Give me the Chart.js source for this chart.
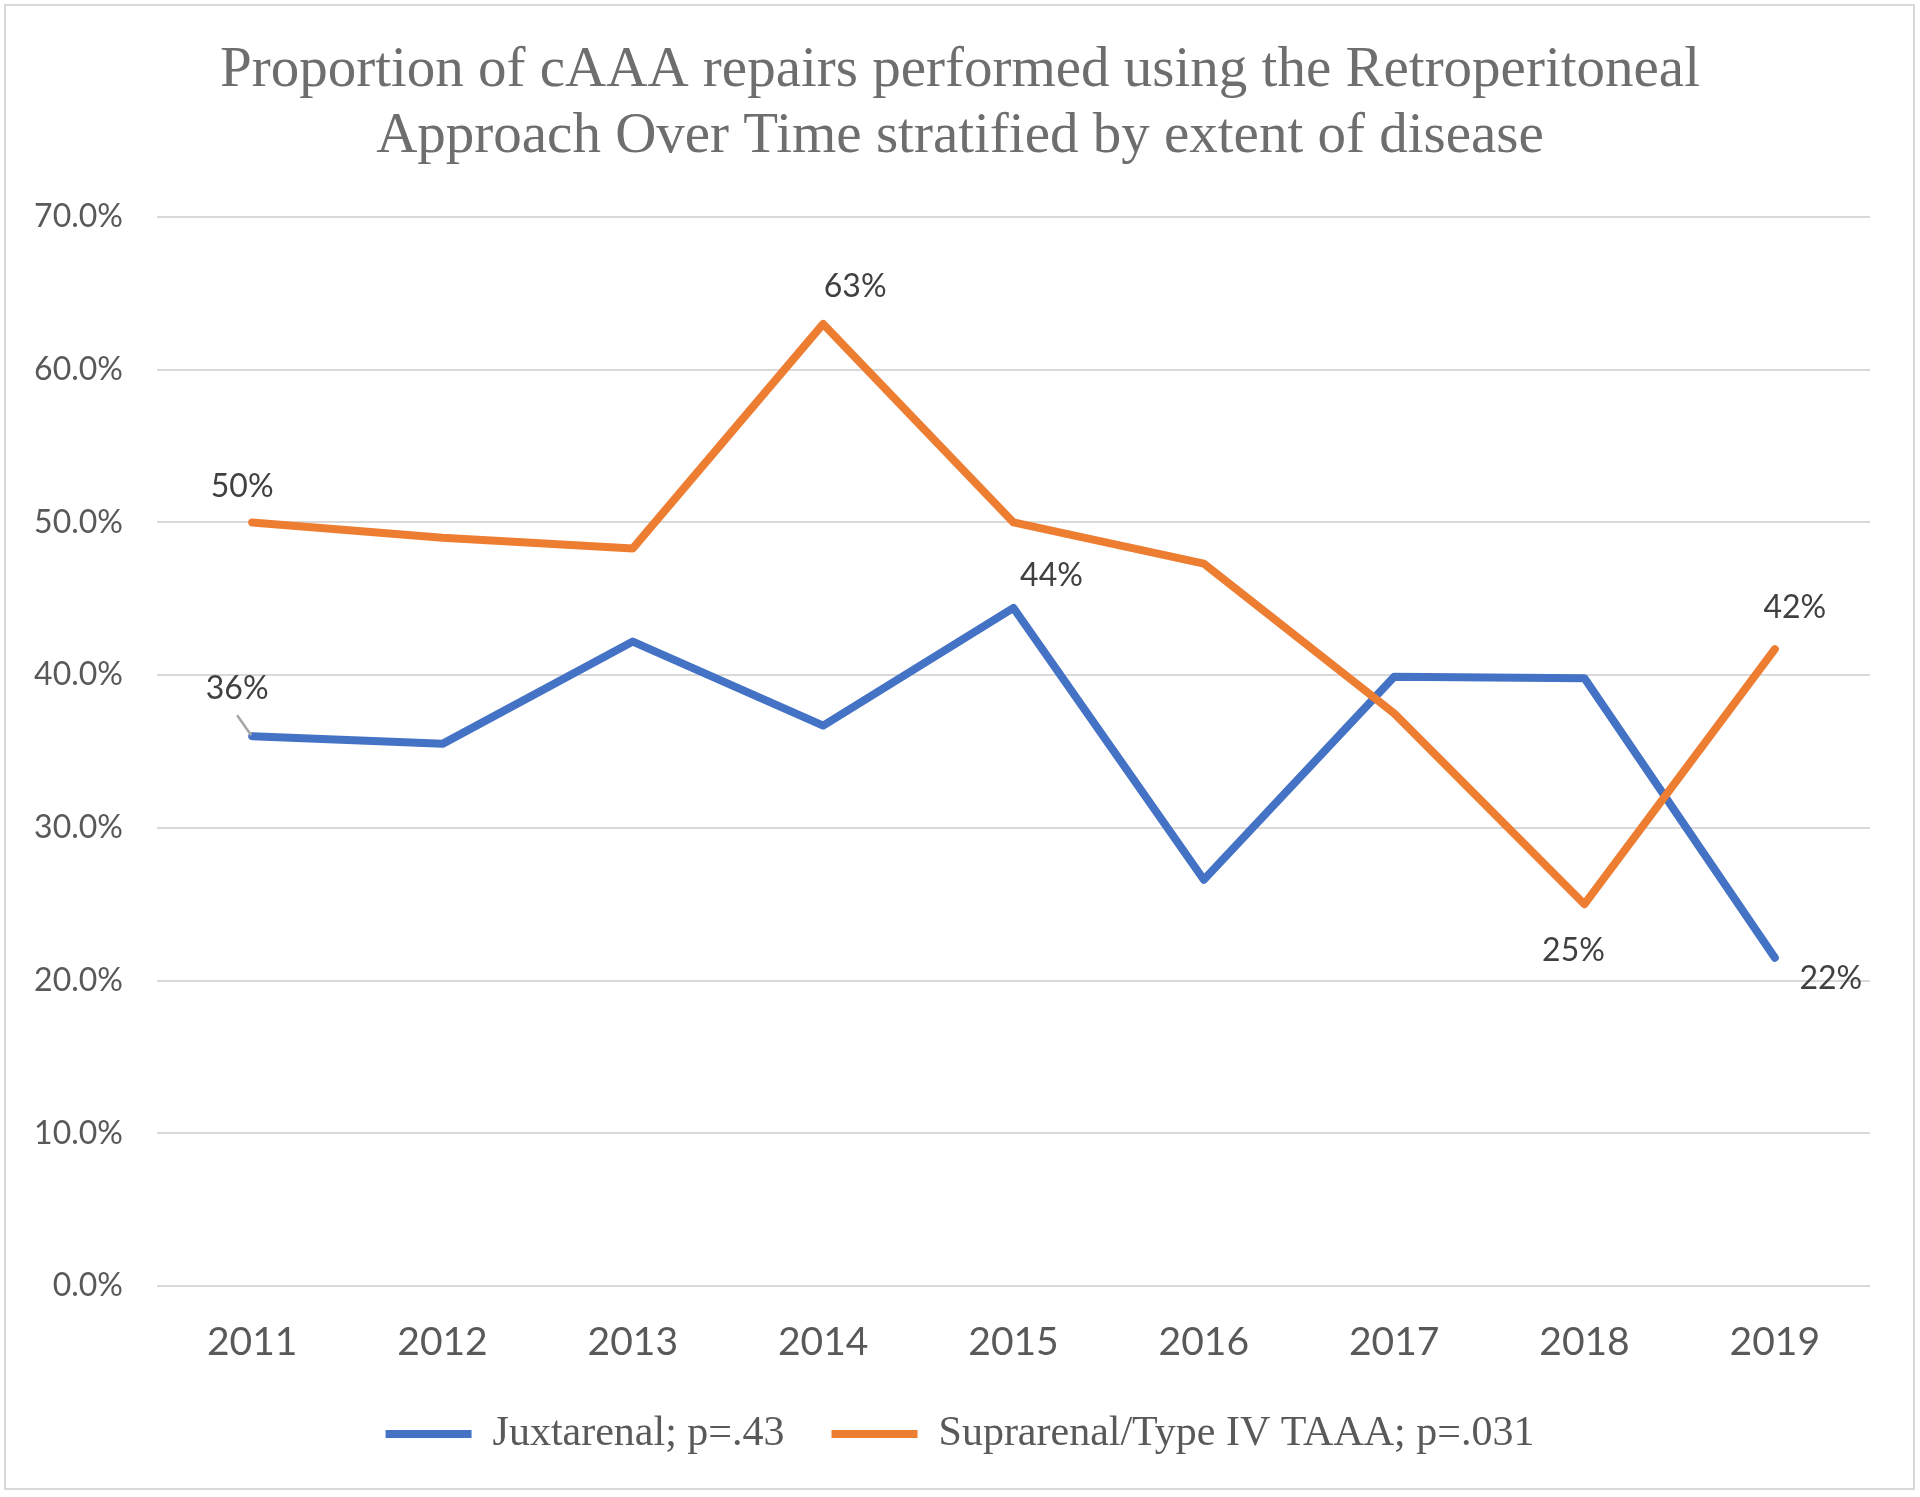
<!DOCTYPE html>
<html>
<head>
<meta charset="utf-8">
<script src="https://cdn.jsdelivr.net/npm/chart.js@4/dist/chart.umd.min.js"></script>
<style>
  html, body { margin: 0; padding: 0; background: #ffffff; }
  #wrap { width: 1920px; height: 1497px; position: relative; }
</style>
</head>
<body>
<div id="wrap"><canvas id="c" width="1920" height="1497"></canvas></div>
<script>
// ---- data ----
const categories = ['2011', '2012', '2013', '2014', '2015', '2016', '2017', '2018', '2019'];
const juxtarenal = [36.0, 35.5, 42.2, 36.7, 44.4, 26.6, 39.9, 39.8, 21.5];
const suprarenal = [50.0, 49.0, 48.3, 63.0, 50.0, 47.3, 37.5, 25.0, 41.7];
const juxtarenalLabels = ['36%', null, null, null, '44%', null, null, null, '22%'];
const suprarenalLabels = ['50%', null, null, '63%', null, null, null, '25%', '42%'];
const seriesNames = ['Juxtarenal; p=.43', 'Suprarenal/Type IV TAAA; p=.031'];
const titleLines = ['Proportion of cAAA repairs performed using the Retroperitoneal',
                    'Approach Over Time stratified by extent of disease'];
const yMin = 0, yMax = 70, yStep = 10;

// ---- label placement (style only) ----
const juxtarenalOffsets = [[-15, -48], null, null, null, [38, -32], null, null, null, [56, 21]];
const suprarenalOffsets = [[-10, -36], null, null, [32, -37], null, null, null, [-11, 46], [20, -41]];

const BLUE = '#4472C4', ORANGE = '#ED7D31';

const frame = {
  id: 'frame',
  beforeDraw(chart) {
    const ctx = chart.ctx;
    ctx.save();
    ctx.fillStyle = '#ffffff';
    ctx.fillRect(0, 0, chart.width, chart.height);
    ctx.strokeStyle = '#d9d9d9';
    ctx.lineWidth = 2;
    ctx.strokeRect(5, 5, 1909, 1484);
    ctx.restore();
  }
};

const dataLabels = {
  id: 'dataLabels',
  afterDatasetsDraw(chart) {
    const ctx = chart.ctx;
    const sets = [[juxtarenalLabels, juxtarenalOffsets], [suprarenalLabels, suprarenalOffsets]];
    ctx.save();
    ctx.font = '32px Lato';
    ctx.fillStyle = '#404040';
    ctx.textAlign = 'center';
    ctx.textBaseline = 'middle';
    sets.forEach(([labels, offs], di) => {
      const meta = chart.getDatasetMeta(di);
      labels.forEach((t, j) => {
        if (!t) return;
        const p = meta.data[j];
        const [dx, dy] = offs[j];
        ctx.fillText(t, p.x + dx, p.y + dy);
        if (di === 0 && j === 0) {
          ctx.save();
          ctx.strokeStyle = '#a6a6a6';
          ctx.lineWidth = 2.5;
          ctx.beginPath();
          ctx.moveTo(p.x - 15, p.y - 21);
          ctx.lineTo(p.x - 1, p.y - 1);
          ctx.stroke();
          ctx.restore();
        }
      });
    });
    ctx.restore();
  }
};

new Chart(document.getElementById('c'), {
  type: 'line',
  data: {
    labels: categories,
    datasets: [
      { label: seriesNames[0], data: juxtarenal, borderColor: BLUE, backgroundColor: BLUE,
        borderWidth: 8, pointRadius: 0, tension: 0, borderCapStyle: 'round', borderJoinStyle: 'round', order: 1 },
      { label: seriesNames[1], data: suprarenal, borderColor: ORANGE, backgroundColor: ORANGE,
        borderWidth: 8, pointRadius: 0, tension: 0, borderCapStyle: 'round', borderJoinStyle: 'round', order: 0 }
    ]
  },
  options: {
    responsive: false,
    animation: false,
    devicePixelRatio: 1,
    layout: { padding: { left: 0, right: 0, top: 0, bottom: 32 } },
    plugins: {
      title: {
        display: true,
        text: titleLines,
        color: '#6e6e6e',
        font: { family: 'Liberation Serif', size: 57, weight: 'normal', lineHeight: 66 / 57 },
        padding: { top: 38, bottom: 47 }
      },
      legend: {
        position: 'bottom',
        labels: {
          usePointStyle: true,
          pointStyle: 'line',
          pointStyleWidth: 86,
          padding: 47,
          color: '#595959',
          font: { family: 'Liberation Serif', size: 42 },
          sort: (a, b) => a.datasetIndex - b.datasetIndex
        }
      },
      tooltip: { enabled: false }
    },
    scales: {
      x: {
        offset: true,
        grid: { display: false, drawTicks: false, offset: true },
        border: { display: false },
        ticks: { color: '#595959', font: { family: 'Lato', size: 39 }, padding: 33, maxRotation: 0 },
        afterFit: s => { s.height = 80; }
      },
      y: {
        min: yMin, max: yMax,
        grid: { color: '#d9d9d9', lineWidth: 2, drawTicks: false },
        border: { display: false },
        ticks: { stepSize: yStep, color: '#595959', font: { family: 'Lato', size: 32 }, padding: 34,
                 callback: v => v.toFixed(1) + '%' },
        afterFit: s => { s.width = 157; }
      },
      yRight: {
        position: 'right',
        grid: { display: false, drawTicks: false },
        border: { display: false },
        ticks: { display: false },
        afterFit: s => { s.width = 50; }
      }
    }
  },
  plugins: [frame, dataLabels]
});
</script>
</body>
</html>
